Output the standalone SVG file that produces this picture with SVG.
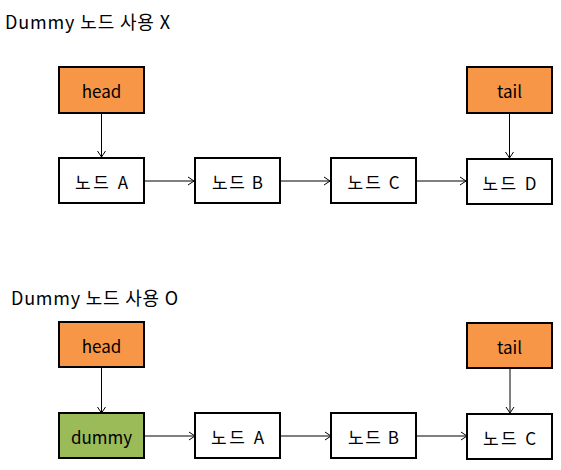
<svg xmlns="http://www.w3.org/2000/svg" width="561" height="470" viewBox="0 0 561 470">
<defs>
<marker id="ah" markerWidth="10" markerHeight="10" refX="8" refY="5" orient="auto" markerUnits="userSpaceOnUse">
<path d="M2,1 L8,5 L2,9" fill="none" stroke="#000" stroke-width="1"/>
</marker>
<style>
text{font-family:"Malgun Gothic","Noto Sans CJK KR","Noto Sans",sans-serif;font-size:17px;fill:#000}
.ttl{font-size:18px}
.lbl{text-anchor:middle;dominant-baseline:central}
.box{stroke:#000;stroke-width:2;fill:#fff}
.or{fill:#F79646}
.gr{fill:#9BBB59}
.con line{stroke:#000;stroke-width:1;marker-end:url(#ah)}
</style>
</defs>
<rect width="561" height="470" fill="#fff"/>
<text class="ttl" x="5" y="29" textLength="165" lengthAdjust="spacing">Dummy 노드 사용 X</text>
<text class="ttl" x="11" y="305" textLength="167" lengthAdjust="spacing">Dummy 노드 사용 O</text>
<g class="con">
<line x1="101.5" y1="113" x2="101.5" y2="157"/>
<line x1="144" y1="181" x2="194" y2="181"/>
<line x1="280" y1="181" x2="330" y2="181"/>
<line x1="416" y1="181" x2="466" y2="181"/>
<line x1="509.5" y1="113" x2="509.5" y2="158"/>
<line x1="101.5" y1="367" x2="101.5" y2="413"/>
<line x1="144" y1="436" x2="195" y2="436"/>
<line x1="280" y1="436" x2="331" y2="436"/>
<line x1="417" y1="436" x2="467" y2="436"/>
<line x1="510" y1="368" x2="510" y2="413"/>
</g>
<g id="head1"><rect class="box or" x="59" y="67" width="85" height="46"/><text class="lbl" x="101.5" y="90">head</text></g>
<g id="tail1"><rect class="box or" x="467" y="67" width="85" height="46"/><text class="lbl" x="509.5" y="90">tail</text></g>
<g id="nA1"><rect class="box" x="59" y="158" width="85" height="45"/><text class="lbl" x="101.5" y="181" textLength="53" lengthAdjust="spacing">노드 A</text></g>
<g id="nB1"><rect class="box" x="195" y="158" width="85" height="45"/><text class="lbl" x="237.5" y="181" textLength="51" lengthAdjust="spacing">노드 B</text></g>
<g id="nC1"><rect class="box" x="331" y="158" width="85" height="45"/><text class="lbl" x="373.5" y="181" textLength="52" lengthAdjust="spacing">노드 C</text></g>
<g id="nD1"><rect class="box" x="467" y="159" width="85" height="45"/><text class="lbl" x="509.5" y="182" textLength="54" lengthAdjust="spacing">노드 D</text></g>
<g id="head2"><rect class="box or" x="59" y="322" width="85" height="45"/><text class="lbl" x="101.5" y="345">head</text></g>
<g id="tail2"><rect class="box or" x="467" y="323" width="85" height="45"/><text class="lbl" x="509.5" y="346">tail</text></g>
<g id="dummy"><rect class="box gr" x="59" y="413" width="85" height="45"/><text class="lbl" x="101.5" y="436" textLength="61" lengthAdjust="spacing">dummy</text></g>
<g id="nA2"><rect class="box" x="195" y="413" width="85" height="45"/><text class="lbl" x="237.5" y="436" textLength="53" lengthAdjust="spacing">노드 A</text></g>
<g id="nB2"><rect class="box" x="331" y="413" width="85" height="45"/><text class="lbl" x="373.5" y="436" textLength="51" lengthAdjust="spacing">노드 B</text></g>
<g id="nC2"><rect class="box" x="467" y="414" width="85" height="45"/><text class="lbl" x="509.5" y="437" textLength="53" lengthAdjust="spacing">노드 C</text></g>
</svg>
